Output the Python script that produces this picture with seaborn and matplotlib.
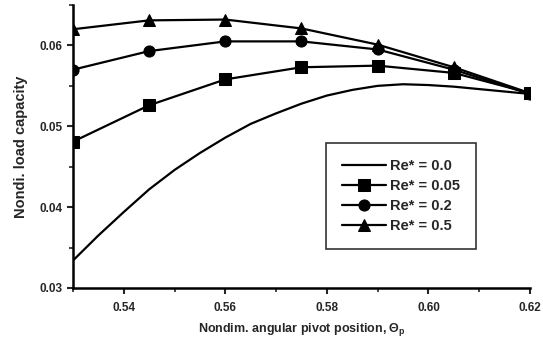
import numpy as np
import pandas as pd
import matplotlib
matplotlib.use("Agg")
import matplotlib.pyplot as plt
import seaborn as sns
from matplotlib.ticker import MultipleLocator, FormatStrFormatter

# Data
theta_markers = [0.530, 0.545, 0.560, 0.575, 0.590, 0.605, 0.620]
re_005 = [0.0481, 0.0526, 0.0558, 0.0573, 0.0575, 0.0566, 0.0541]
re_02 = [0.0570, 0.0593, 0.0605, 0.0605, 0.0595, 0.0570, 0.0540]
re_05 = [0.0620, 0.0631, 0.0632, 0.0621, 0.0601, 0.0573, 0.0541]

theta_re0 = [0.530, 0.535, 0.540, 0.545, 0.550, 0.555, 0.560, 0.565, 0.570,
             0.575, 0.580, 0.585, 0.590, 0.595, 0.600, 0.605, 0.610, 0.615, 0.620]
re_00 = [0.0334, 0.0365, 0.0394, 0.0422, 0.0446, 0.0467, 0.0486, 0.0503, 0.0516,
         0.0528, 0.0538, 0.0545, 0.0550, 0.0552, 0.0551, 0.0549, 0.0546, 0.0543, 0.0540]

labels = ["Re* = 0.0", "Re* = 0.05", "Re* = 0.2", "Re* = 0.5"]
x_ticks = [0.54, 0.56, 0.58, 0.60, 0.62]
y_ticks = [0.03, 0.04, 0.05, 0.06]

sns.set_style("ticks")
plt.rcParams['font.family'] = ['Liberation Sans', 'DejaVu Sans']
plt.rcParams['font.weight'] = 'bold'
plt.rcParams['mathtext.fontset'] = 'custom'
plt.rcParams['mathtext.it'] = 'Liberation Sans:bold'
plt.rcParams['mathtext.rm'] = 'Liberation Sans:bold'

fig = plt.figure(figsize=(5.43, 3.40), dpi=100)
ax = fig.add_axes([73/543, 1-288/340, (530-73)/543, (288-5)/340])

df0 = pd.DataFrame({"x": theta_re0, "y": re_00})
sns.lineplot(data=df0, x="x", y="y", ax=ax, color="black", lw=1.6, label=labels[0])
for vals, mk, lab in zip([re_005, re_02, re_05], ["s", "o", "^"], labels[1:]):
    d = pd.DataFrame({"x": theta_markers, "y": vals})
    sns.lineplot(data=d, x="x", y="y", ax=ax, color="black", lw=1.6, marker=mk,
                 markersize=8, markeredgecolor="black", markerfacecolor="black",
                 label=lab)

ax.set_xlim(0.53, 0.62)
ax.set_ylim(0.03, 0.065)
ax.set_xticks(x_ticks)
ax.set_yticks(y_ticks)
ax.xaxis.set_minor_locator(MultipleLocator(0.01))
ax.yaxis.set_minor_locator(MultipleLocator(0.005))
ax.xaxis.set_major_formatter(FormatStrFormatter('%.2f'))
ax.yaxis.set_major_formatter(FormatStrFormatter('%.2f'))
ax.tick_params(axis='both', which='major', length=4, width=1.5, labelsize=8.5, direction='out')
ax.tick_params(axis='x', which='major', pad=6)
ax.tick_params(axis='both', which='minor', length=3, width=1.2, direction='out')
for t in ax.get_xticklabels() + ax.get_yticklabels():
    t.set_fontweight('bold')
sns.despine(ax=ax)
for s in ["left", "bottom"]:
    ax.spines[s].set_linewidth(1.8)
    ax.spines[s].set_color("black")

ax.set_xlabel("Nondim. angular pivot position, $\\Theta_p$",
              fontsize=9, fontweight='bold', labelpad=5)
ax.set_ylabel("Nondi. load capacity", fontsize=10.5, fontweight='bold', labelpad=8)

leg = ax.legend(loc="upper left", bbox_to_anchor=((326-73)/457, 1-(143-5)/283),
                frameon=True, fancybox=False, edgecolor="black", fontsize=10.5,
                handlelength=3.0, borderpad=1.1, labelspacing=0.42, handletextpad=0.3,
                borderaxespad=0)
leg.get_frame().set_linewidth(1.2)
for t in leg.get_texts():
    t.set_fontweight('bold')

fig.savefig("out.png", dpi=100)
